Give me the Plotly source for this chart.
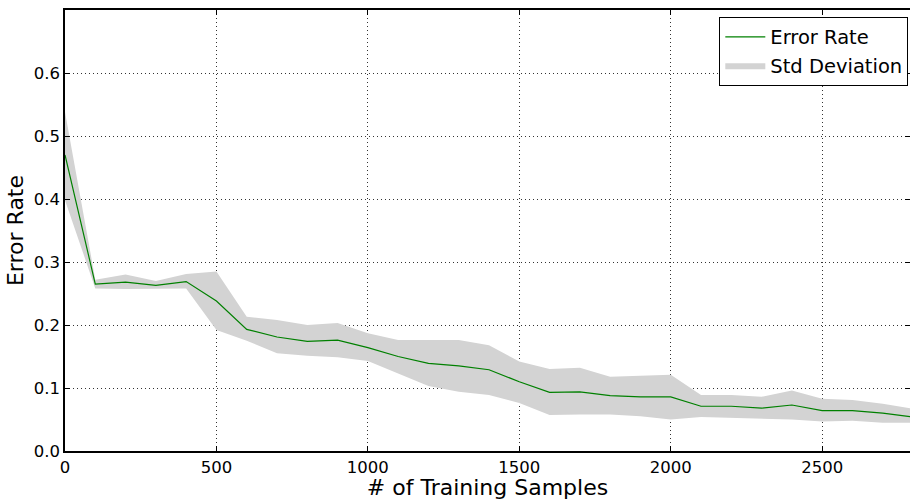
import plotly.graph_objects as go

# Data
samples = [0, 100, 200, 300, 400, 500, 600, 700, 800, 900, 1000, 1100, 1200, 1300, 1400,
           1500, 1600, 1700, 1800, 1900, 2000, 2100, 2200, 2300, 2400, 2500, 2600, 2700, 2800]
error_rate = [0.470, 0.265, 0.268, 0.263, 0.269, 0.238, 0.193, 0.181, 0.174, 0.176, 0.164,
              0.150, 0.139, 0.135, 0.129, 0.110, 0.093, 0.094, 0.088, 0.086, 0.086, 0.071,
              0.071, 0.068, 0.073, 0.064, 0.064, 0.060, 0.054]
std_upper = [0.538, 0.272, 0.280, 0.270, 0.281, 0.285, 0.213, 0.208, 0.200, 0.203, 0.187,
             0.176, 0.176, 0.176, 0.168, 0.142, 0.130, 0.132, 0.118, 0.119, 0.121, 0.089,
             0.089, 0.086, 0.096, 0.083, 0.081, 0.075, 0.067]
std_lower = [0.398, 0.258, 0.257, 0.257, 0.258, 0.192, 0.175, 0.155, 0.151, 0.149, 0.143,
             0.123, 0.103, 0.094, 0.089, 0.076, 0.057, 0.058, 0.058, 0.055, 0.050, 0.054,
             0.053, 0.052, 0.050, 0.047, 0.048, 0.045, 0.045]
y_ticks = [0.0, 0.1, 0.2, 0.3, 0.4, 0.5, 0.6]
x_ticks = [0, 500, 1000, 1500, 2000, 2500]

FONT = "DejaVu Sans"
GREEN = "#008000"
GRAY = "#d3d3d3"

fig = go.Figure()

# Std deviation band
fig.add_trace(go.Scatter(x=samples, y=std_lower, mode="lines", line=dict(width=0),
                         showlegend=False, hoverinfo="skip"))
fig.add_trace(go.Scatter(x=samples, y=std_upper, mode="lines", line=dict(width=0),
                         fill="tonexty", fillcolor=GRAY, name="Std Deviation",
                         legendrank=2, hoverinfo="skip"))

# Mean error rate
fig.add_trace(go.Scatter(x=samples, y=error_rate, mode="lines", name="Error Rate",
                         legendrank=1, line=dict(color=GREEN, width=1.2)))

axis_common = dict(
    showline=True, linecolor="black", linewidth=1.5, mirror="ticks",
    ticks="inside", ticklen=5, tickcolor="black", tickwidth=1,
    showgrid=True, gridcolor="#333", griddash="1px,3px", gridwidth=1,
    zeroline=False, tickfont=dict(family=FONT, size=16.5, color="black"),
)

fig.update_layout(
    width=910, height=500,
    margin=dict(l=65, r=0, t=10, b=49),
    paper_bgcolor="white", plot_bgcolor="white",
    font=dict(family=FONT, color="black"),
    xaxis=dict(range=[0, 2790], tickvals=x_ticks, ticktext=[str(v) for v in x_ticks],
               title=dict(text="# of Training Samples", font=dict(family=FONT, size=22),
                          standoff=3),
               automargin=False, **axis_common),
    yaxis=dict(range=[0, 0.7], tickvals=y_ticks, ticktext=[f"{v:.1f}" for v in y_ticks],
               title=dict(text="Error Rate", font=dict(family=FONT, size=22), standoff=4),
               automargin=False, **axis_common),
    legend=dict(x=0.998, y=0.985, xanchor="right", yanchor="top",
                bgcolor="white", bordercolor="black", borderwidth=1,
                font=dict(family=FONT, size=19.5, color="black"),
                traceorder="normal", tracegroupgap=0, itemwidth=40),
    showlegend=True,
)

fig.write_html("out.html")
